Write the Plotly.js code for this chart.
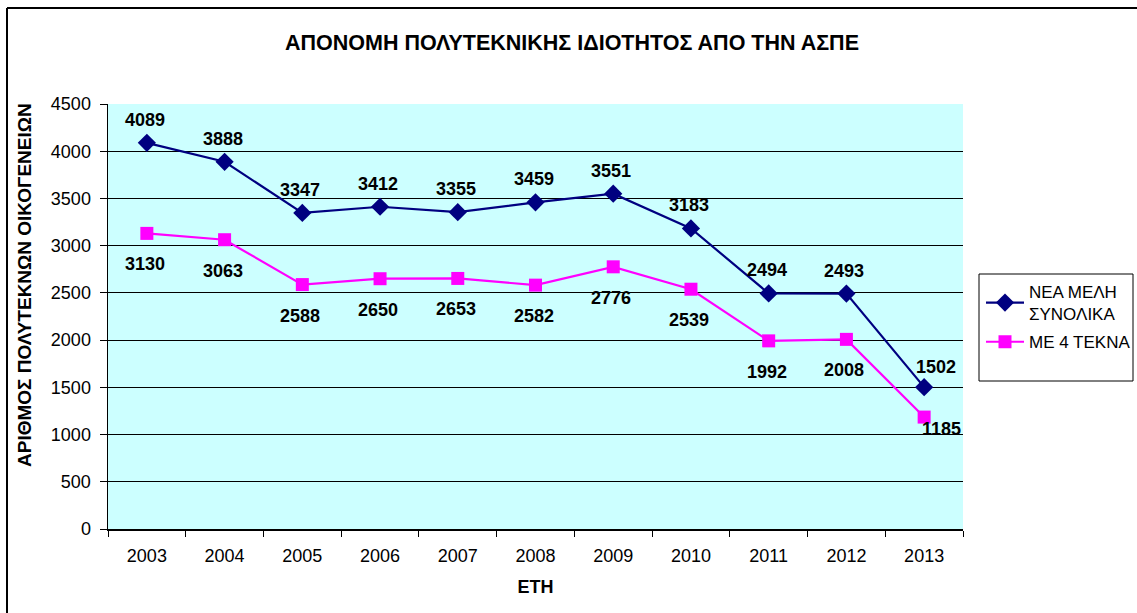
<!DOCTYPE html>
<html>
<head>
<meta charset="utf-8">
<script src="https://cdn.plot.ly/plotly-3.0.1.min.js"></script>
<style>html,body{margin:0;padding:0;background:#fff;}#chart{width:1137px;height:613px;}</style>
</head>
<body>
<div id="chart"></div>
<script>
const years = ["2003","2004","2005","2006","2007","2008","2009","2010","2011","2012","2013"];
const totalNew = [4089,3888,3347,3412,3355,3459,3551,3183,2494,2493,1502];
const fourChildren = [3130,3063,2588,2650,2653,2582,2776,2539,1992,2008,1185];
const seriesNames = ["ΝΕΑ ΜΕΛΗ<br>ΣΥΝΟΛΙΚΑ","ΜΕ 4 ΤΕΚΝΑ"];
const yTicks = [0,500,1000,1500,2000,2500,3000,3500,4000,4500];

const L=108, R=963, T=104, B=529, W=1137, H=613;
const px = x => (x-L)/(R-L);
const py = y => (B-y)/(B-T);

const traces = [
  {x: years, y: totalNew, name: seriesNames[0], legendgroup: 'a', mode: 'lines+markers',
   line: {color: '#000080', width: 2.2}, marker: {symbol: 'diamond', size: 14, color: '#000080'}},
  {x: years, y: fourChildren, name: seriesNames[1], legendgroup: 'b', mode: 'lines+markers',
   line: {color: '#FF00FF', width: 2.2}, marker: {symbol: 'square', size: 13, color: '#FF00FF'}}
];

const lblFont = {family: 'Arial, Liberation Sans', size: 18, color: '#000'};
const annotations = [];
years.forEach((yr, i) => {
  const last = i === years.length - 1;
  annotations.push({x: i, y: totalNew[i], xref: 'x', yref: 'y', text: '<b>' + totalNew[i] + '</b>',
    showarrow: false, yshift: last ? 20 : 23, xshift: last ? 12 : -2, font: lblFont});
  annotations.push({x: i, y: fourChildren[i], xref: 'x', yref: 'y', text: '<b>' + fourChildren[i] + '</b>',
    showarrow: false, yshift: last ? -12 : -31, xshift: last ? 17 : -2, font: lblFont});
});
annotations.push({x: px(24), y: py(285), xref: 'paper', yref: 'paper', xanchor: 'center', yanchor: 'middle',
  textangle: -90, showarrow: false,
  text: '<b>ΑΡΙΘΜΟΣ ΠΟΛΥΤΕΚΝΩΝ ΟΙΚΟΓΕΝΕΙΩΝ</b>', font: {family: 'Arial, Liberation Sans', size: 19, color: '#000'}});

const layout = {
  width: W, height: H,
  margin: {l: L, r: W-R, t: T, b: H-B, pad: 0, autoexpand: false},
  paper_bgcolor: '#ffffff',
  plot_bgcolor: '#CCFFFF',
  font: {family: 'Arial, Liberation Sans', size: 18, color: '#000'},
  title: {text: '<b>ΑΠΟΝΟΜΗ ΠΟΛΥΤΕΚΝΙΚΗΣ ΙΔΙΟΤΗΤΟΣ ΑΠΟ ΤΗΝ ΑΣΠΕ</b>', x: 572/W, xanchor: 'center',
    y: 1 - 42/H, yanchor: 'middle', font: {family: 'Arial, Liberation Sans', size: 21.5, color: '#000'}},
  xaxis: {type: 'category', tickson: 'boundaries', ticks: 'outside', ticklen: 6, tickcolor: '#000',
    showline: true, linecolor: '#000', linewidth: 1.5, showgrid: false, zeroline: false,
    ticklabelstandoff: 10, automargin: false,
    tickfont: {size: 18}, title: {text: '<b>ΕΤΗ</b>', font: {size: 18}, standoff: 15},
    range: [-0.5, 10.5]},
  yaxis: {range: [0, 4500], tickvals: yTicks, ticks: 'outside', ticklen: 7, tickcolor: '#000',
    showline: true, linecolor: '#000', linewidth: 1.5, showgrid: true, gridcolor: '#000', gridwidth: 1,
    ticklabelstandoff: 5, automargin: false,
    zeroline: false, tickfont: {size: 18}},
  showlegend: true,
  legend: {x: px(981), y: py(274), xanchor: 'left', yanchor: 'top', bgcolor: 'rgba(0,0,0,0)',
    borderwidth: 0, font: {size: 17}, tracegroupgap: 3, itemwidth: 38},
  annotations: annotations,
  shapes: [
    {type: 'rect', xref: 'paper', yref: 'paper', x0: px(979), x1: px(1133), y0: py(381), y1: py(274),
     line: {color: '#000', width: 1}},
    {type: 'line', xref: 'paper', yref: 'paper', x0: px(7), x1: px(1140), y0: py(8), y1: py(8),
     line: {color: '#000', width: 2}},
    {type: 'line', xref: 'paper', yref: 'paper', x0: px(7), x1: px(7), y0: py(8), y1: py(616),
     line: {color: '#000', width: 2}}
  ]
};

Plotly.newPlot('chart', traces, layout, {displayModeBar: false, staticPlot: true});
</script>
</body>
</html>
